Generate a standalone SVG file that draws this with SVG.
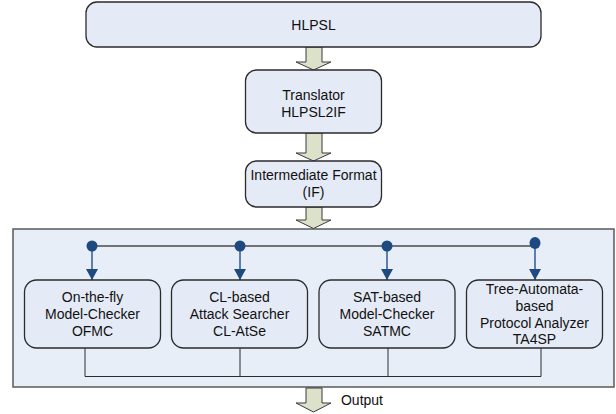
<svg xmlns="http://www.w3.org/2000/svg" width="616" height="414" viewBox="0 0 616 414">
<defs>
<style>
.box{fill:#E5EBF6;stroke:#2b2b2b;stroke-width:1.3}
.cont{fill:#E8EEF8;stroke:#5a5a5a;stroke-width:1.5}
.blk{fill:#DCE1C9;stroke:#3a3a3a;stroke-width:1}
.t{font-family:"Liberation Sans",Arial,sans-serif;font-size:14px;fill:#111;text-anchor:middle}
.bus{stroke:#4a4a4a;stroke-width:1.5;fill:none}
.tap{stroke:#2E5A98;stroke-width:1.5;fill:none}
.dot{fill:#1F4A80}
.out{stroke:#2b2b2b;stroke-width:1;fill:none}
</style>
<marker id="ah" markerWidth="12" markerHeight="12" refX="11" refY="6" orient="auto" markerUnits="userSpaceOnUse" viewBox="0 0 12 12">
<path d="M0,0 L11,6 L0,12 Z" fill="#1F4A80"/>
</marker>
</defs>

<g id="container">
<rect class="cont" x="13" y="229" width="601" height="158"/>
</g>

<g id="connectors">
<path class="blk" d="M306,47 H322 V62 H331 L313.5,70 L296,62 H306 Z"/>
<path class="blk" d="M306,133 H322 V153 H331 L313.5,161 L296,153 H306 Z"/>
<path class="blk" d="M306,207 H322 V220 H331 L313.5,228.5 L296,220 H306 Z"/>
<path class="blk" d="M306,388 H322 V403 H331 L313.5,412 L296,403 H306 Z"/>
<line class="bus" x1="92" y1="246" x2="535" y2="246"/>
<line class="tap" x1="92" y1="246" x2="92" y2="280" marker-end="url(#ah)"/>
<line class="tap" x1="240" y1="246" x2="240" y2="280" marker-end="url(#ah)"/>
<line class="tap" x1="387" y1="246" x2="387" y2="280" marker-end="url(#ah)"/>
<line class="tap" x1="535" y1="243" x2="535" y2="280" marker-end="url(#ah)"/>
<circle class="dot" cx="92" cy="246" r="5.5"/>
<circle class="dot" cx="240" cy="246" r="5.5"/>
<circle class="dot" cx="387" cy="246" r="5.5"/>
<ellipse class="dot" cx="535" cy="243" rx="5.5" ry="6"/>
<path class="out" d="M85,348 V376.5 M240,348 V376.5 M388,348 V376.5 M541,348 V376.5 M85,376.5 H541"/>
</g>

<g id="hlpsl">
<rect class="box" x="86" y="2" width="455" height="45" rx="11"/>
<text class="t" x="313.5" y="29.5">HLPSL</text>
</g>

<g id="translator">
<rect class="box" x="245.5" y="70" width="136" height="63" rx="11"/>
<text class="t" x="313.5" y="100">Translator</text>
<text class="t" x="313.5" y="117">HLPSL2IF</text>
</g>

<g id="if">
<rect class="box" x="245.5" y="161" width="136" height="46" rx="11"/>
<text class="t" x="313.5" y="180">Intermediate Format</text>
<text class="t" x="313.5" y="197">(IF)</text>
</g>

<g id="ofmc">
<rect class="box" x="24.5" y="280" width="136" height="68" rx="12"/>
<text class="t" x="92.5" y="302">On-the-fly</text>
<text class="t" x="92.5" y="319">Model-Checker</text>
<text class="t" x="92.5" y="336">OFMC</text>
</g>

<g id="clatse">
<rect class="box" x="171.5" y="280" width="136" height="68" rx="12"/>
<text class="t" x="239.5" y="302">CL-based</text>
<text class="t" x="239.5" y="319">Attack Searcher</text>
<text class="t" x="239.5" y="336">CL-AtSe</text>
</g>

<g id="satmc">
<rect class="box" x="319" y="280" width="136" height="68" rx="12"/>
<text class="t" x="387" y="302">SAT-based</text>
<text class="t" x="387" y="319">Model-Checker</text>
<text class="t" x="387" y="336">SATMC</text>
</g>

<g id="ta4sp">
<rect class="box" x="466.5" y="280" width="136" height="68" rx="12"/>
<text class="t" x="534.5" y="293.5">Tree-Automata-</text>
<text class="t" x="534.5" y="310.5">based</text>
<text class="t" x="534.5" y="327.5">Protocol Analyzer</text>
<text class="t" x="534.5" y="344">TA4SP</text>
</g>

<g id="output">
<text class="t" x="362" y="405">Output</text>
</g>
</svg>
